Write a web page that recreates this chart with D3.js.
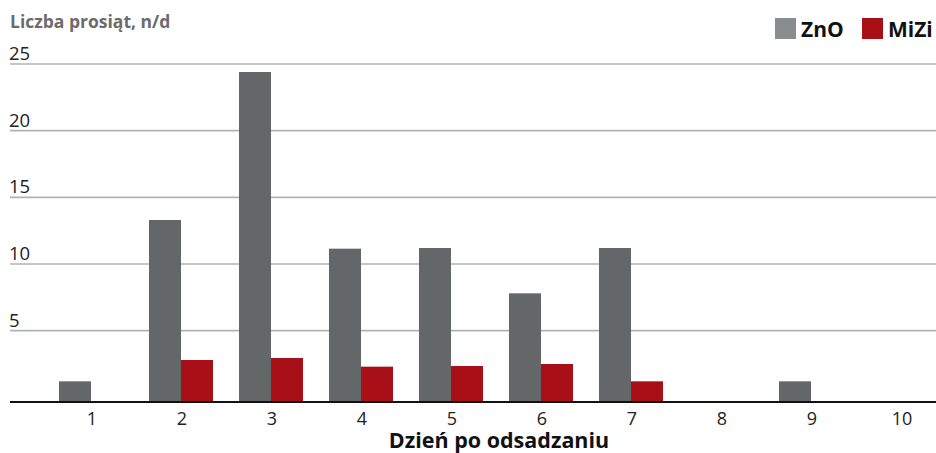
<!DOCTYPE html>
<html><head><meta charset="utf-8">
<script src="https://cdn.jsdelivr.net/npm/d3@7"></script>
<style>
body{margin:0;background:#fff;}
text{font-family:"Open Sans","Noto Sans",sans-serif;}
</style></head>
<body><svg id="chart" width="936" height="453"></svg>
<script>
const days = ["1","2","3","4","5","6","7","8","9","10"];
const seriesNames = ["ZnO","MiZi"];
const znoValues = [1.2, 13.3, 24.4, 11.15, 11.2, 7.8, 11.2, 0, 1.2, 0];
const miziValues = [0, 2.8, 2.95, 2.3, 2.35, 2.5, 1.2, 0, 0, 0];
const yTicks = [5, 10, 15, 20, 25];
const colors = ["#636768", "#a80f17"];
const legendColors = ["#8a8d8e", "#a80f17"];

const svg = d3.select("#chart");
const x = d3.scaleBand().domain(days).range([46, 946]).paddingInner(0.2889).paddingOuter(0.1444);
const x1 = d3.scaleBand().domain(seriesNames).range([0, x.bandwidth()]);
const y = d3.scaleLinear().domain([-0.35, 25]).range([402, 64]);

// gridlines
svg.append("g").selectAll("line").data(yTicks).join("line")
  .attr("x1", 10).attr("x2", 936)
  .attr("y1", d => y(d)).attr("y2", d => y(d))
  .attr("stroke", "#b2b2b2").attr("stroke-width", 1.6);
svg.append("g").selectAll("text").data(yTicks).join("text")
  .attr("x", 9).attr("y", d => y(d) - 4)
  .attr("font-size", 18.5).attr("fill", "#222").text(d => d);

// bars
const data = days.map((d, i) => ({day: d, vals: [znoValues[i], miziValues[i]]}));
const groups = svg.append("g").selectAll("g").data(data).join("g")
  .attr("transform", d => `translate(${x(d.day)},0)`);
groups.selectAll("rect").data(d => d.vals.map((v, j) => ({v, s: seriesNames[j], j})).filter(o => o.v > 0))
  .join("rect")
  .attr("x", o => x1(o.s)).attr("width", x1.bandwidth())
  .attr("y", o => y(o.v)).attr("height", o => y(-0.35) - y(o.v))
  .attr("fill", o => colors[o.j]);

// axis line
svg.append("line").attr("x1", 10).attr("x2", 936).attr("y1", y(-0.35)).attr("y2", y(-0.35))
  .attr("stroke", "#111").attr("stroke-width", 2);

// x labels
svg.append("g").selectAll("text").data(days).join("text")
  .attr("x", d => x(d) + x.bandwidth() / 2 + 1).attr("y", 425)
  .attr("text-anchor", "middle").attr("font-size", 18).attr("fill", "#222").text(d => d);

svg.append("text").attr("x", 499).attr("y", 448).attr("text-anchor", "middle")
  .attr("font-size", 21.5).attr("font-weight", "bold").attr("fill", "#111").text("Dzień po odsadzaniu");

svg.append("text").attr("x", 10).attr("y", 28)
  .attr("font-size", 17.5).attr("font-weight", "bold").attr("fill", "#6b6b6b").text("Liczba prosiąt, n/d");

// legend
const legendX = [775, 862];
const lg = svg.append("g").selectAll("g").data(seriesNames).join("g")
  .attr("transform", (d, i) => `translate(${legendX[i]},18)`);
lg.append("rect").attr("width", 21).attr("height", 21).attr("fill", (d, i) => legendColors[i]);
lg.append("text").attr("x", 26).attr("y", 18.5).attr("font-size", 21).attr("font-weight", "bold")
  .attr("fill", "#111").text(d => d);
</script></body></html>
